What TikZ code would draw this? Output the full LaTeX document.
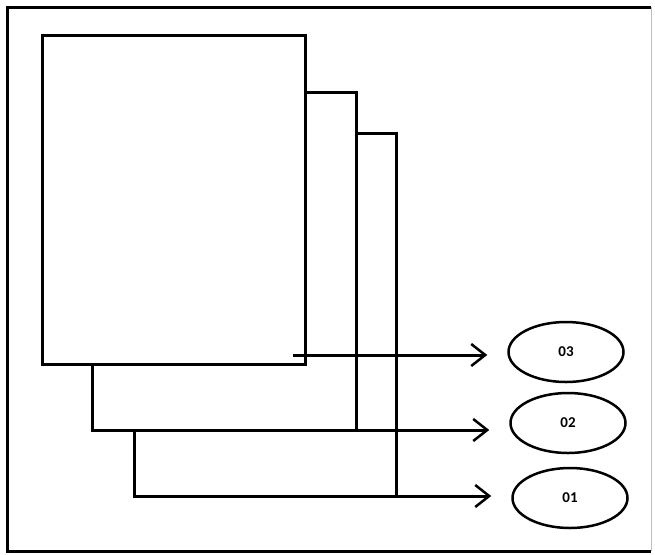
\documentclass[tikz,border=0pt]{standalone}
\usepackage{fontspec}
\setmainfont{Carlito}
\usetikzlibrary{calc, arrows.meta, shapes.geometric}

\begin{document}
\begin{tikzpicture}[x=1pt, y=-1pt,
		page/.style={draw, fill=white, line width=3pt, anchor=north west, inner sep=0pt, outer sep=0pt},
		outcome/.style={draw, ellipse, line width=2.5pt, minimum width=115pt, minimum height=60pt, inner sep=0pt, font=\fontsize{15}{17}\selectfont\bfseries},
		feed/.style={line width=3pt, shorten >=20pt, -{Straight Barb[length=14pt, width=22pt, line width=2.5pt]}}]
			\useasboundingbox (0,0) rectangle (655,554);

			\begin{scope}
				\draw [line width=3pt] (651,7) -- (7,7) -- (7,551) -- (651,551);
				\draw [line width=1pt, black!25] (651,7) -- (651,551);
			\end{scope}

			\begin{scope}
				\node [page, minimum width=262pt, minimum height=363pt] (page3) at (134,133) {};
				\node [page, minimum width=264pt, minimum height=338pt] (page2) at (92,92) {};
				\node [page, minimum width=263pt, minimum height=329pt] (page1) at (42,35) {};
			\end{scope}

			\begin{scope}
				\node [outcome] (o3) at (566,352) {03};
				\node [outcome] (o2) at (568,423) {02};
				\node [outcome] (o1) at (570,498) {01};
			\end{scope}

			\coordinate (tail3) at ($ (page1.south east) + (-12,-9) $);

			\begin{scope}
				\draw [feed] (tail3) -- (tail3 -| o3.west);
				\draw [feed] (page2.south east) -- (page2.south east -| o2.west);
				\draw [feed] (page3.south east) -- (page3.south east -| o1.west);
			\end{scope}
		\end{tikzpicture}
\end{document}
